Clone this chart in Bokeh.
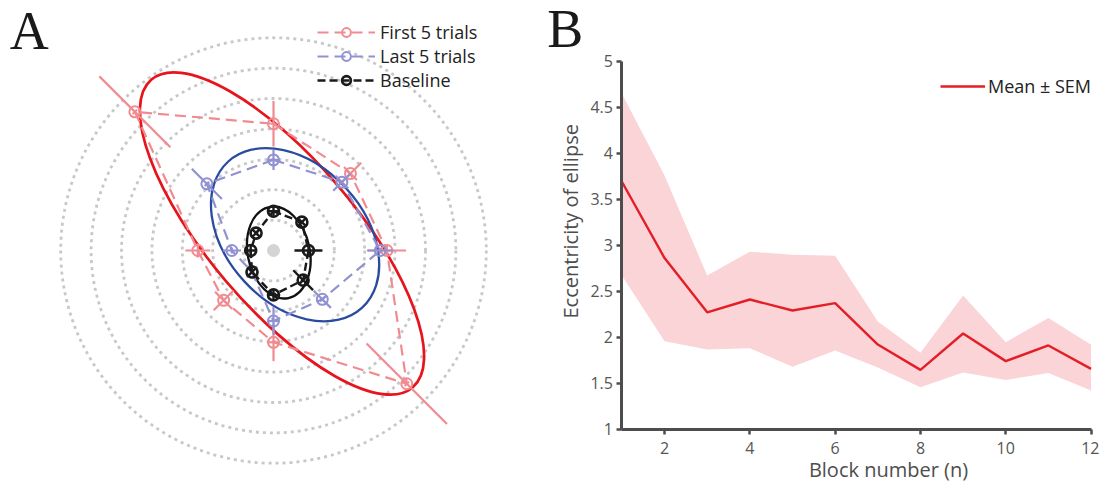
import numpy as np
from bokeh.plotting import figure
from bokeh.models import (Range1d, Label, Legend, LegendItem, FixedTicker,
                          NumeralTickFormatter, LinearAxis)
from bokeh.embed import file_html
from bokeh.resources import INLINE

# ---------------- Panel A data (polar: angle in degrees, radius in grid units) ----------------
angles_deg = [90, 45, 0, -45, -90, -135, 180, 135]
grid_radii = [1, 2, 3, 4, 5, 6, 7]

first_r = [4.17, 3.58, 3.73, 6.20, 3.02, 2.32, 2.49, 6.45]
first_rad_err = [0.75, 0.50, 0.63, 1.87, 0.62, 0.46, 0.41, 1.65]
first_tan_err = [0.10, 0.30, 0.20, 0.10, 0.20, 0.40, 0.23, 0.10]

last_r = [2.98, 3.18, 3.51, 2.27, 2.32, 1.00, 1.37, 3.10]
last_rad_err = [0.33, 0.40, 0.43, 0.40, 0.46, 0.25, 0.30, 0.70]
last_tan_err = [0.20, 0.30, 0.10, 0.10, 0.15, 0.10, 0.10, 0.10]

base_r = [1.29, 1.32, 1.15, 1.38, 1.46, 1.00, 0.75, 0.81]
base_rad_err = [0.20, 0.20, 0.46, 0.46, 0.20, 0.20, 0.20, 0.20]
base_tan_err = [0.20, 0.20, 0.20, 0.20, 0.20, 0.20, 0.20, 0.20]

# fitted ellipses: first 5, last 5, baseline
ell_cx = [0.28, 0.71, 0.174]
ell_cy = [0.56, 0.52, -0.066]
ell_w = [13.28, 6.52, 3.06]
ell_h = [4.84, 4.54, 2.04]
ell_angle_deg = [-49.7, -47.4, 102.0]

series_labels = ["First 5 trials", "Last 5 trials", "Baseline"]

# ---------------- Panel B data ----------------
blocks = [1, 2, 3, 4, 5, 6, 7, 8, 9, 10, 11, 12]
ecc_mean = [3.69, 2.86, 2.27, 2.41, 2.29, 2.37, 1.92, 1.645, 2.04, 1.74, 1.91, 1.656]
ecc_upper = [4.645, 3.757, 2.67, 2.93, 2.895, 2.884, 2.17, 1.83, 2.453, 1.946, 2.21, 1.917]
ecc_lower = [2.67, 1.957, 1.866, 1.88, 1.68, 1.855, 1.67, 1.457, 1.616, 1.536, 1.61, 1.42]
x_ticks = [2, 4, 6, 8, 10, 12]
y_ticks = [1, 1.5, 2, 2.5, 3, 3.5, 4, 4.5, 5]

SANS = "Open Sans"
SERIF = "Liberation Serif"

# ---------------- layout geometry (pixels) ----------------
W, H = 1099, 481
S = 30.4                 # panel A: px per grid unit
CXA, CYA = 273.0, 250.0  # panel A centre
BX0, PXX = 621.4, 42.65  # panel B: pixel of x=1, px per block
BY5, PXY = 60.7, 92.0    # panel B: pixel of y=5, px per unit
BL = 0.375               # baseline correction (fraction of font size)

p = figure(width=W, height=H, output_backend="svg", toolbar_location=None, title=None,
           x_range=Range1d(-CXA / S, (W - CXA) / S),
           y_range=Range1d(-(H - CYA) / S, CYA / S),
           min_border=0, min_border_left=0, min_border_right=0,
           min_border_top=0, min_border_bottom=0,
           x_axis_location=None, y_axis_location=None)
p.grid.visible = False
p.outline_line_color = None
p.extra_x_ranges = {"bx": Range1d(1 - BX0 / PXX, 1 + (W - BX0) / PXX)}
p.extra_y_ranges = {"by": Range1d(5 - (H - BY5) / PXY, 5 + BY5 / PXY)}

# ---------------- Panel A ----------------
p.circle(x=[0] * len(grid_radii), y=[0] * len(grid_radii), radius=grid_radii,
         fill_color=None, line_color="#c8c8c8", line_width=2.8, line_dash="3 4")
p.scatter(x=[0], y=[0], size=13, marker="circle", fill_color="#d4d4d4", line_color=None)

ell_colors = ["#E8141C", "#2B4BA0", "#111111"]
ell_lw = [2.7, 2.3, 2.3]
for i in range(3):
    p.ellipse(x=[ell_cx[i]], y=[ell_cy[i]], width=[ell_w[i]], height=[ell_h[i]],
              angle=[np.deg2rad(ell_angle_deg[i])], fill_color=None,
              line_color=ell_colors[i], line_width=ell_lw[i])


def draw_series(r, rerr, terr, color, dash, lw, mlw):
    th = np.deg2rad(np.array(angles_deg, dtype=float))
    r = np.array(r, dtype=float)
    rerr = np.array(rerr, dtype=float)
    terr = np.array(terr, dtype=float)
    ux, uy = np.cos(th), np.sin(th)
    tx, ty = -np.sin(th), np.cos(th)
    x, y = r * ux, r * uy
    ln = p.line(np.append(x, x[0]), np.append(y, y[0]), line_color=color,
                line_dash=dash, line_width=lw)
    p.segment(x0=(r - rerr) * ux, y0=(r - rerr) * uy, x1=(r + rerr) * ux, y1=(r + rerr) * uy,
              line_color=color, line_width=lw)
    p.segment(x0=x - terr * tx, y0=y - terr * ty, x1=x + terr * tx, y1=y + terr * ty,
              line_color=color, line_width=lw)
    sc = p.scatter(x, y, marker="circle", size=11, fill_color=None,
                   line_color=color, line_width=mlw)
    return [ln, sc]


r1 = draw_series(first_r, first_rad_err, first_tan_err, "#F08C91", "11 6", 2.2, 2.0)
r2 = draw_series(last_r, last_rad_err, last_tan_err, "#9191D2", "11 6", 2.2, 2.0)
r3 = draw_series(base_r, base_rad_err, base_tan_err, "#1a1a1a", "8 4", 2.4, 2.6)

legA = Legend(items=[LegendItem(label=series_labels[0], renderers=r1),
                     LegendItem(label=series_labels[1], renderers=r2),
                     LegendItem(label=series_labels[2], renderers=r3)],
              location=(317, 389), glyph_width=58, glyph_height=22, label_height=22,
              spacing=0, padding=0, margin=0, label_standoff=5,
              label_text_font=SANS, label_text_font_size="18px", label_text_color="#222222",
              background_fill_alpha=0, border_line_alpha=0)
p.add_layout(legA)

p.add_layout(Label(x=(9.3 - CXA) / S, y=(CYA - 50.5 + BL * 54) / S, text="A", text_font=SERIF,
                   text_font_size="54px", text_color="#1a1a1a", text_baseline="alphabetic"))

# ---------------- Panel B ----------------
band = p.varea(x=blocks, y1=ecc_lower, y2=ecc_upper, fill_color="#FAD4D7", fill_alpha=1.0,
               x_range_name="bx", y_range_name="by")
mline = p.line(blocks, ecc_mean, line_color="#E41E26", line_width=2.4,
               x_range_name="bx", y_range_name="by")

xaxB = LinearAxis(x_range_name="bx", y_range_name="by", fixed_location=1, bounds=(1, 12),
                  ticker=FixedTicker(ticks=x_ticks))
yaxB = LinearAxis(x_range_name="bx", y_range_name="by", fixed_location=1, bounds=(1, 5),
                  ticker=FixedTicker(ticks=y_ticks),
                  formatter=NumeralTickFormatter(format="0.[0]"))
for ax in [xaxB, yaxB]:
    ax.axis_line_width = 3
    ax.axis_line_color = "#4d4d4d"
    ax.major_tick_line_width = 2.5
    ax.major_tick_line_color = "#4d4d4d"
    ax.major_tick_out = 5
    ax.major_tick_in = 0
    ax.minor_tick_line_color = None
    ax.major_label_text_font = SANS
    ax.major_label_text_font_size = "16px"
    ax.major_label_text_color = "#555555"
xaxB.major_label_standoff = 8
yaxB.major_label_standoff = 4
p.add_layout(xaxB, "below")
p.add_layout(yaxB, "left")

p.add_layout(Label(x=1 + (888 - BX0) / PXX, y=5 - (476 - BL * 20 - BY5) / PXY,
                   x_range_name="bx", y_range_name="by",
                   text="Block number (n)", text_align="center", text_baseline="alphabetic",
                   text_font=SANS, text_font_size="20px", text_color="#4d4d4d"))
p.add_layout(Label(x=1 + (577.7 - BL * 20 - BX0) / PXX, y=5 - (220.8 - BY5) / PXY,
                   x_range_name="bx", y_range_name="by",
                   angle=np.pi / 2, text="Eccentricity of ellipse", text_align="center",
                   text_baseline="alphabetic", text_font=SANS, text_font_size="20px",
                   text_color="#4d4d4d"))
p.add_layout(Label(x=1 + (546.7 - BX0) / PXX, y=5 + (BY5 - 48.3 + BL * 54) / PXY,
                   x_range_name="bx", y_range_name="by", text="B",
                   text_font=SERIF, text_font_size="54px", text_color="#1a1a1a",
                   text_baseline="alphabetic"))

legB = Legend(items=[LegendItem(label="Mean ± SEM", renderers=[mline])],
              location=(940, 383), glyph_width=45, glyph_height=22, label_height=22,
              spacing=0, padding=0, margin=0, label_standoff=3,
              label_text_font=SANS, label_text_font_size="18px", label_text_color="#222222",
              background_fill_alpha=0, border_line_alpha=0)
p.add_layout(legB)

open("out.html", "w").write(file_html(p, INLINE))
